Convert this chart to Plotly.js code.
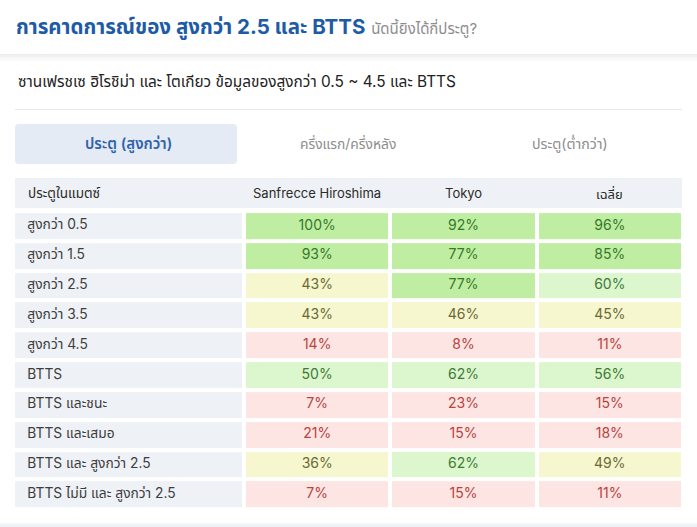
<!DOCTYPE html>
<html>
<head>
<meta charset="utf-8">
<script src="https://cdn.plot.ly/plotly-3.0.1.min.js"></script>
<style>html,body{margin:0;padding:0;background:#fff;}#chart{width:697px;height:527px;}</style>
</head>
<body>
<div id="chart"></div>
<script>
// ---- data ----
const rowLabels = ['สูงกว่า 0.5','สูงกว่า 1.5','สูงกว่า 2.5','สูงกว่า 3.5','สูงกว่า 4.5','BTTS','BTTS และชนะ','BTTS และเสมอ','BTTS และ สูงกว่า 2.5','BTTS ไม่มี และ สูงกว่า 2.5'];
const teams = ['Sanfrecce Hiroshima','Tokyo','เฉลี่ย'];
const hiroshima = [100,93,43,43,14,50,7,21,36,7];
const tokyo = [92,77,77,46,8,62,23,15,62,15];
const average = [96,85,60,45,11,56,15,18,49,11];
const tabs = ['ประตู (สูงกว่า)','ครึ่งแรก/ครึ่งหลัง','ประตู(ต่ำกว่า)'];
const headerFirst = 'ประตูในแมตซ์';
const titleMain = 'การคาดการณ์ของ สูงกว่า 2.5 และ BTTS';
const titleSub = 'นัดนี้ยิงได้กี่ประตู?';
const subtitle = 'ซานเฟรชเซ ฮิโรชิม่า และ โตเกียว ข้อมูลของสูงกว่า 0.5 ~ 4.5 และ BTTS';

// ---- styles ----
const W = 697, H = 527;
const FONT = "Inter, 'Noto Sans Thai', 'Noto Sans', sans-serif";
const X = p => p / W;
const Y = p => 1 - p / H;
const series = [hiroshima, tokyo, average];
const z = rowLabels.map((_, r) => series.map(s => s[r]));
function textColor(v){
  if (v >= 70) return '#35792a';
  if (v >= 50) return '#3f7a36';
  if (v >= 30) return '#6b6a34';
  return '#b9433e';
}
const colorscale = [
  [0, '#fde5e3'], [0.295, '#fde5e3'],
  [0.295, '#f6f6cf'], [0.495, '#f6f6cf'],
  [0.495, '#dcf6cd'], [0.695, '#dcf6cd'],
  [0.695, '#bfeda1'], [1, '#bfeda1']
];

const tx = [], ty = [], tt = [], tc = [];
series.forEach((s, c) => s.forEach((v, r) => {
  tx.push(teams[c]); ty.push(rowLabels[r]); tt.push(v + '%'); tc.push(textColor(v));
}));

const traces = [
  {
    type: 'heatmap', x: teams, y: rowLabels, z: z,
    zmin: 0, zmax: 100, colorscale: colorscale, showscale: false,
    xgap: 4, ygap: 4, hoverinfo: 'skip', xaxis: 'x', yaxis: 'y'
  },
  {
    type: 'heatmap', x: [0.5], y: rowLabels, z: rowLabels.map(() => [1]),
    zmin: 0, zmax: 1, colorscale: [[0, '#eef1f5'], [1, '#eef1f5']], showscale: false,
    xgap: 4, ygap: 4, hoverinfo: 'skip', xaxis: 'x2', yaxis: 'y'
  },
  {
    type: 'scatter', mode: 'text', x: tx, y: ty, text: tt,
    textfont: {family: FONT, size: 14, color: tc}, textposition: 'middle center',
    hoverinfo: 'skip', xaxis: 'x', yaxis: 'y', cliponaxis: false
  },
  {
    type: 'scatter', mode: 'text', x: rowLabels.map(() => 0.062), y: rowLabels, text: rowLabels,
    textfont: {family: FONT, size: 13.8, color: '#3d3d3d'}, textposition: 'middle right',
    hoverinfo: 'skip', xaxis: 'x2', yaxis: 'y', cliponaxis: false
  }
];

function roundRect(x0, y0, x1, y1, r){
  const a = X(x0), b = X(x1), c = Y(y0), d = Y(y1), rx = r / W, ry = r / H;
  return `M ${a+rx},${c} L ${b-rx},${c} Q ${b},${c} ${b},${c-ry} L ${b},${d+ry} Q ${b},${d} ${b-rx},${d} L ${a+rx},${d} Q ${a},${d} ${a},${d+ry} L ${a},${c-ry} Q ${a},${c} ${a+rx},${c} Z`;
}

const shapes = [];
// header shadow
[0.07, 0.05, 0.035, 0.022, 0.012, 0.005].forEach((o, i) => {
  shapes.push({type:'rect', xref:'paper', yref:'paper', x0:0, x1:1, y0:Y(54 + i*1.6 + 1.6), y1:Y(54 + i*1.6), fillcolor:'#000', opacity:o, line:{width:0}, layer:'below'});
});
// divider
shapes.push({type:'line', xref:'paper', yref:'paper', x0:X(15), x1:X(682), y0:Y(109.5), y1:Y(109.5), line:{color:'#e8e8e8', width:1}});
// active tab
shapes.push({type:'path', xref:'paper', yref:'paper', path: roundRect(15, 124, 237, 164, 4), fillcolor:'#e4ebf5', line:{width:0}, layer:'below'});
// table header band
shapes.push({type:'rect', xref:'paper', yref:'paper', x0:X(15), x1:X(682), y0:Y(208), y1:Y(178), fillcolor:'#eef1f5', line:{width:0}, layer:'below'});
// bottom strip
shapes.push({type:'rect', xref:'paper', yref:'paper', x0:0, x1:1, y0:0, y1:Y(523.5), fillcolor:'#eef2f7', line:{width:0}, layer:'below'});

const annotations = [
  {xref:'paper', yref:'paper', x:X(16), y:Y(81), xanchor:'left', yanchor:'middle', showarrow:false,
   text: subtitle, font:{family:FONT, size:15.4, color:'#222'}},
  {xref:'paper', yref:'paper', x:X(128), y:Y(144), xanchor:'center', yanchor:'middle', showarrow:false,
   text: tabs[0], font:{family:FONT, size:15, color:'#2f62ac', weight:600}},
  {xref:'paper', yref:'paper', x:X(348), y:Y(144), xanchor:'center', yanchor:'middle', showarrow:false,
   text: tabs[1], font:{family:FONT, size:13.8, color:'#8c8c8c'}},
  {xref:'paper', yref:'paper', x:X(570), y:Y(144), xanchor:'center', yanchor:'middle', showarrow:false,
   text: tabs[2], font:{family:FONT, size:14.2, color:'#8c8c8c'}},
  {xref:'paper', yref:'paper', x:X(26), y:Y(193), xanchor:'left', yanchor:'middle', showarrow:false,
   text: headerFirst, font:{family:FONT, size:13.5, color:'#2b2b2b'}}
];
teams.forEach(t => annotations.push({xref:'x', yref:'paper', x:t, y:Y(193), xanchor:'center', yanchor:'middle', showarrow:false,
  text: t, font:{family:FONT, size:13, color:'#2b2b2b'}}));

const layout = {
  width: W, height: H,
  margin: {l:0, r:0, t:0, b:0, pad:0},
  paper_bgcolor: '#fff', plot_bgcolor: 'rgba(0,0,0,0)',
  showlegend: false,
  title: {
    text: '<b>' + titleMain + '</b> <span style="font-size:15px;color:#8d8d8d;font-weight:normal">' + titleSub + '</span>',
    x: X(16), xanchor: 'left', xref: 'paper', y: Y(27), yanchor: 'middle', yref: 'container',
    font: {family: FONT, size: 20.5, color: '#1d5ba6'}
  },
  xaxis: {domain:[X(244), X(683)], type:'category', range:[-0.5, 2.5], showgrid:false, zeroline:false,
          showticklabels:false, ticks:'', showline:false, anchor:'y', fixedrange:true},
  xaxis2: {domain:[X(13), X(244)], range:[0, 1], showgrid:false, zeroline:false,
          showticklabels:false, ticks:'', showline:false, anchor:'y', fixedrange:true},
  yaxis: {domain:[Y(509.4), Y(211.1)], type:'category', range:[9.5, -0.5], showgrid:false, zeroline:false,
          showticklabels:false, ticks:'', showline:false, anchor:'x', fixedrange:true},
  shapes: shapes,
  annotations: annotations
};

Plotly.newPlot('chart', traces, layout, {displayModeBar:false, staticPlot:true});
</script>
</body>
</html>
